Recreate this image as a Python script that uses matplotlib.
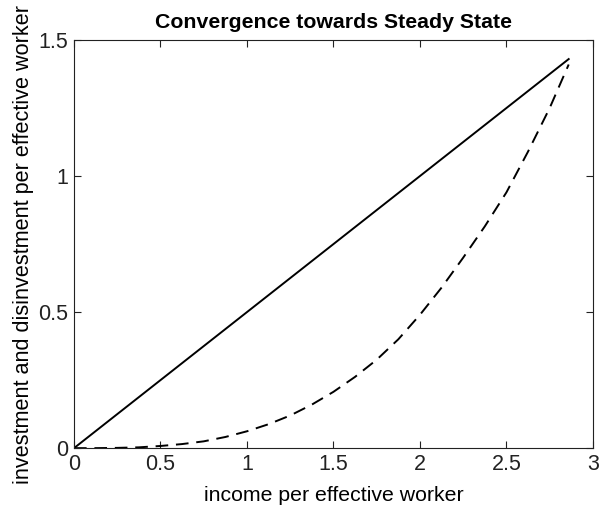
import matplotlib
matplotlib.use("Agg")
import matplotlib.pyplot as plt

plt.rcParams['font.family'] = ['Liberation Sans', 'DejaVu Sans']

# income per effective worker
income = [0.0, 0.125, 0.25, 0.375, 0.5, 0.625, 0.75, 0.875, 1.0, 1.125, 1.25, 1.375,
          1.5, 1.625, 1.75, 1.875, 2.0, 2.125, 2.25, 2.375, 2.5, 2.625, 2.75, 2.86]
# investment per effective worker (solid)
investment = [0.0, 0.0625, 0.125, 0.1875, 0.25, 0.3125, 0.375, 0.4375, 0.5, 0.5625, 0.625, 0.6875,
              0.75, 0.8125, 0.875, 0.9375, 1.0, 1.0625, 1.125, 1.1875, 1.25, 1.3125, 1.375, 1.43]
# disinvestment per effective worker (dashed)
disinvestment = [0.0, 0.0001, 0.001, 0.003, 0.008, 0.015, 0.025, 0.041, 0.062, 0.088, 0.12, 0.16,
                 0.207, 0.262, 0.325, 0.40, 0.49, 0.59, 0.70, 0.815, 0.94, 1.09, 1.25, 1.41]

xticks = [0, 0.5, 1, 1.5, 2, 2.5, 3]
xticklabels = ['0', '0.5', '1', '1.5', '2', '2.5', '3']
yticks = [0, 0.5, 1, 1.5]
yticklabels = ['0', '0.5', '1', '1.5']

fig = plt.figure(figsize=(6.02, 5.11), dpi=100)
ax = fig.add_axes([0.1229, 0.123, 0.862, 0.7987])

ax.plot(income, investment, color='black', lw=1.4)
ax.plot(income, disinvestment, color='black', lw=1.4, dashes=(6.5, 4))

ax.set_xlim(0, 3)
ax.set_ylim(0, 1.5)
ax.set_xticks(xticks)
ax.set_xticklabels(xticklabels)
ax.set_yticks(yticks)
ax.set_yticklabels(yticklabels)
ax.tick_params(direction='in', top=True, right=True, labelsize=15.5,
               length=5, width=0.8, colors='#222222', pad=4)
for s in ax.spines.values():
    s.set_color('#222222')
    s.set_linewidth(0.8)

ax.set_xlabel('income per effective worker', fontsize=15.3, labelpad=8)
ax.set_ylabel('investment and disinvestment per effective worker', fontsize=15.6, labelpad=3)
ax.set_title('Convergence towards Steady State', fontsize=15.3, fontweight='bold', pad=9)

fig.savefig('out.png', dpi=100)
